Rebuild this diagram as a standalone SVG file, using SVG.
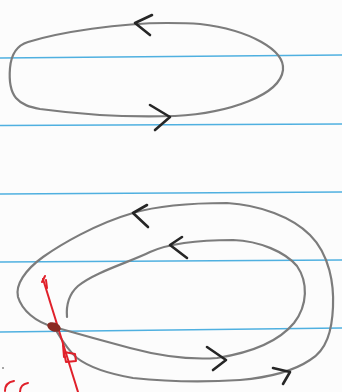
<svg xmlns="http://www.w3.org/2000/svg" width="342" height="392" viewBox="0 0 342 392">
<style>
.rule{stroke:#4fb0e0;stroke-width:1.6;fill:none}
.curve{stroke:#7c7c7c;stroke-width:2.2;fill:none;stroke-linecap:round;stroke-linejoin:round}
.arrow{stroke:#262626;stroke-width:2.6;fill:none;stroke-linecap:round;stroke-linejoin:round}
.red{stroke:#e0202a;stroke-width:2;fill:none;stroke-linecap:round;stroke-linejoin:round}
</style>
<rect width="342" height="392" fill="#fcfcfc"/>
<g id="rules">
<path class="rule" d="M0 58 L342 55"/>
<path class="rule" d="M0 125.5 L342 124"/>
<path class="rule" d="M0 194 L342 192"/>
<path class="rule" d="M0 262 L342 260"/>
<path class="rule" d="M0 332 L342 328"/>
</g>
<g id="top-orbit">
<path class="curve" d="M167 23 C120 23 60 32 28 42 C15 46 11 56 10 68 C9 80 11 92 16 98 C22 105 30 107 40 109 C70 113 120 118 175 116 C230 113 280 95 283 70 C285 50 250 30 200 24 C188 23 177 23 167 23 Z"/>
<path class="arrow" d="M152 15 L135 23 L150 35"/>
<path class="arrow" d="M150 105 L170 117 L155 130"/>
</g>
<g id="spiral">
<path class="curve" d="M67 317 C66 305 68 295 78 286 C95 272 130 262 150 252 C170 243 200 240 233 240 C260 241 285 252 297 266 C308 282 308 305 294 323 C280 340 255 352 217 358 C190 360 160 356 130 348 C100 340 75 333 54 327 C35 322 22 310 18 297 C15 285 25 270 43 257 C60 245 95 224 133 213 C160 205 195 203 227 203 C260 205 292 217 310 235 C330 255 334 285 333 307 C332 330 327 350 310 360 C295 370 275 377 240 380 C210 382 170 382 133 378 C110 374 90 368 77 358 C70 352 63 342 57 332"/>
<path class="arrow" d="M147 205 L133 213 L148 227"/>
<path class="arrow" d="M182 237 L170 245 L187 258"/>
<path class="arrow" d="M207 347 L226 360 L213 370"/>
<path class="arrow" d="M273 368 L290 372 L283 384"/>
</g>
<g id="section">
<path class="red" d="M43 279 L78 392" stroke-width="2.2"/>
<path class="red" d="M46 280 L47 288 M42 282 L45 276" stroke-width="1.5"/>
<ellipse cx="54" cy="327" rx="7" ry="4.5" fill="#8a2a22" transform="rotate(20 54 327)"/>
<path class="red" d="M63 345 L64 357 M64 352 L75 354 L76 361 L66 362 Z" stroke-width="2.4"/>
<path class="red" d="M14 381 C8 382 5 386 5 391 M28 383 C22 384 20 388 20 392" stroke-width="1.8"/>
<circle cx="3" cy="368" r="1" fill="#888"/>
</g>
</svg>
